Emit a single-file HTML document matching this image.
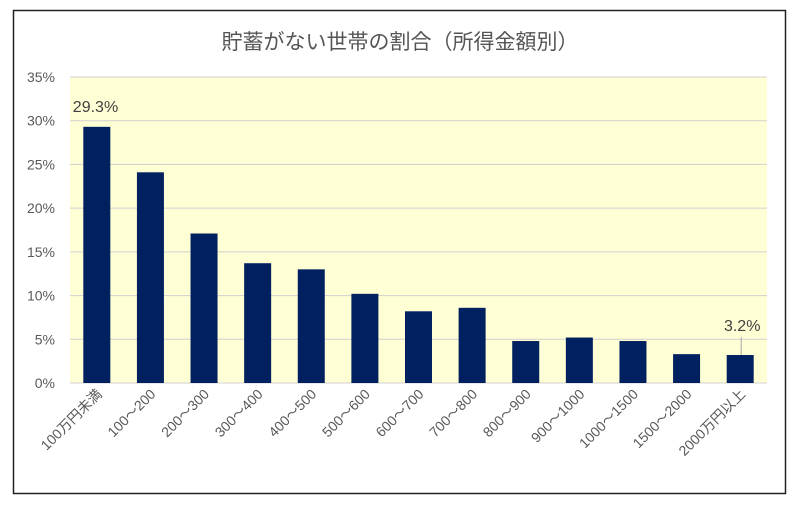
<!DOCTYPE html>
<html><head><meta charset="utf-8"><style>
html,body{margin:0;padding:0;background:#fff;}
svg{display:block;font-family:"Liberation Sans","Noto Sans CJK JP",sans-serif;}
</style></head><body>
<svg id="chart" width="800" height="506" viewBox="0 0 800 506">
<rect x="13.5" y="10.5" width="772" height="483" fill="#fff" stroke="#222" stroke-width="1.5"/>
<text x="400" y="49" text-anchor="middle" font-size="21" fill="#555">貯蓄がない世帯の割合（所得金額別）</text>
<rect x="70" y="77" width="697" height="306" fill="#ffffd5"/>
<g id="grid"></g><g id="bars"></g><g id="labels"></g>
</svg>
<script>
const categories=["100万円未満","100～200","200～300","300～400","400～500","500～600","600～700","700～800","800～900","900～1000","1000～1500","1500～2000","2000万円以上"];
const values=[29.3,24.1,17.1,13.7,13.0,10.2,8.2,8.6,4.8,5.2,4.8,3.3,3.2];
const yTicks=[0,5,10,15,20,25,30,35];
const ns="http://www.w3.org/2000/svg";
const X0=70,X1=767,Y0=383,Y1=77,YMAX=35;
const band=(X1-X0)/categories.length;
const y=v=>Y0-(v/YMAX)*(Y0-Y1);
const xc=i=>X0+band*(i+0.5);
function mk(t,a,p){const e=document.createElementNS(ns,t);for(const k in a)e.setAttribute(k,a[k]);p.appendChild(e);return e;}
const grid=document.getElementById('grid'),bars=document.getElementById('bars'),labels=document.getElementById('labels');
yTicks.forEach(t=>{
  const l=mk('line',{x1:X0,x2:X1,y1:y(t),y2:y(t),stroke:'#d0d0d0','stroke-width':1},grid);
  
  
  const tx=mk('text',{x:55,y:y(t)+5,'text-anchor':'end','font-size':14,fill:'#595959'},grid);
  tx.textContent=t+'%';
  
  
});
const bw=27;
values.forEach((v,i)=>{
  const r=mk('rect',{x:xc(i)-bw/2,y:y(v),width:bw,height:Y0-y(v),fill:'#002060'},bars);
  
  
  const cx=xc(i)+6,cy=395;
  const t=mk('text',{x:cx,y:cy,'text-anchor':'end','font-size':14,fill:'#595959',transform:`rotate(-45 ${cx} ${cy})`},labels);
  t.textContent=categories[i];
  
  
});
const first=mk('text',{x:xc(0)-24,y:y(values[0])-15,'font-size':16,fill:'#404040'},labels);
first.textContent=values[0].toFixed(1)+'%';


const li=values.length-1;
const ld=mk('line',{x1:xc(li)+1,x2:xc(li)+1,y1:y(values[li]),y2:y(values[li])-18,stroke:'#a6a6a6','stroke-width':1},labels);


const last=mk('text',{x:xc(li)+2,y:y(values[li])-24,'text-anchor':'middle','font-size':16,fill:'#404040'},labels);
last.textContent=values[li].toFixed(1)+'%';


</script>
</body></html>
